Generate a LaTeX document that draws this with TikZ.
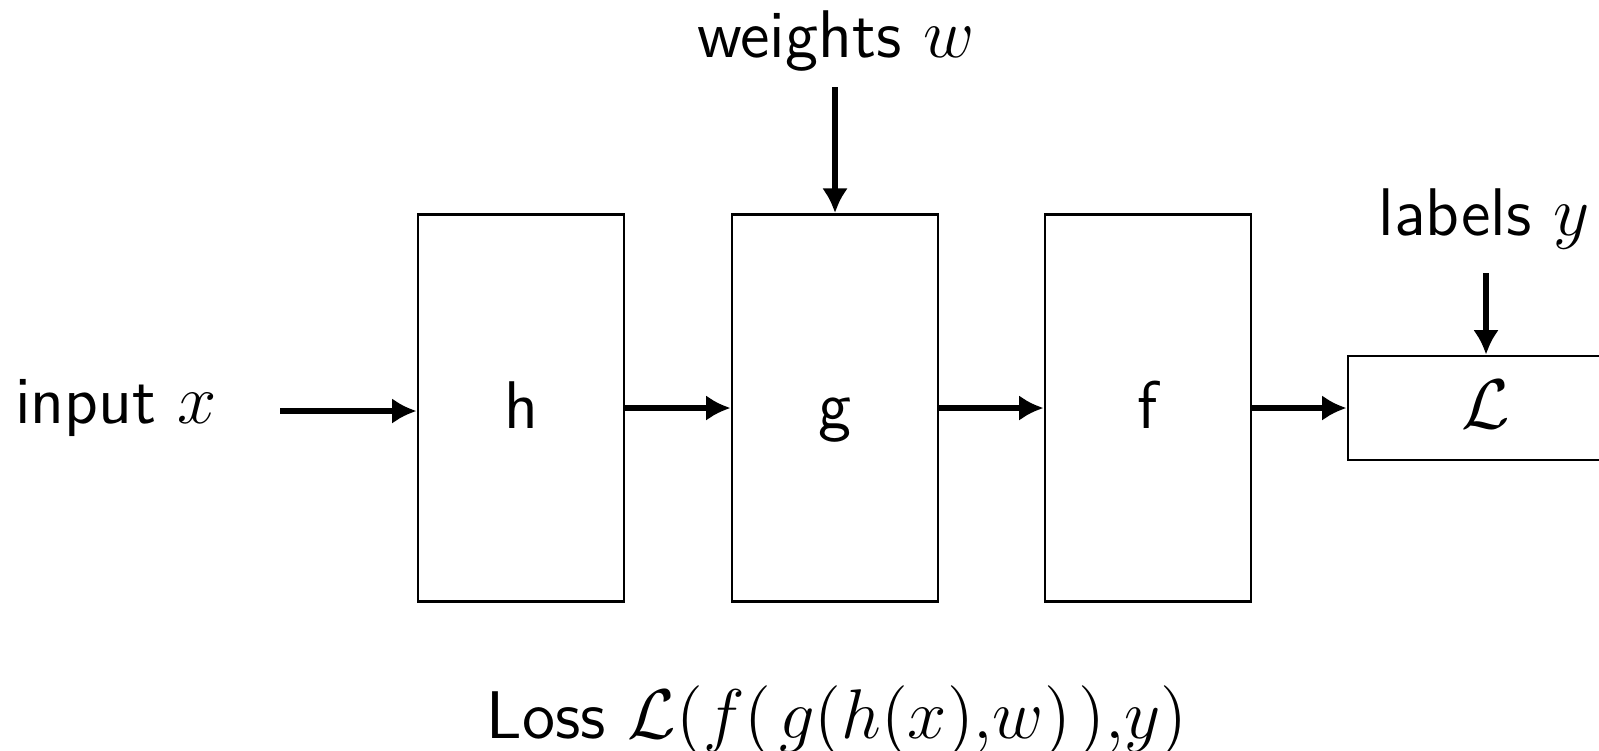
\documentclass[tikz,border=0pt]{standalone}
\usetikzlibrary{arrows.meta}
\usetikzlibrary{positioning}

\begin{document}
\begin{tikzpicture}[x=0.006cm, y=-0.006cm,
  font=\sffamily\fontsize{11.5}{14}\selectfont,
  block/.style={draw, line width=0.45pt, inner sep=0pt,
    text height=0.8em, text depth=0.1em,
    minimum width=1.236cm, minimum height=2.322cm},
  flow/.style={line width=0.9pt, -{Latex[length=4.2pt,width=4.4pt]}}]

\useasboundingbox (0,0) rectangle (1599,750);

%---------------------------------------
% Layers
%---------------------------------------
\node[block] (h) at (521,408) {h};
\node[block] (g) at (835,408) {g};
\node[block] (f) at (1148,408) {f};
\node[block, minimum width=1.656cm, minimum height=0.624cm] (loss) at (1486,408) {$\mathcal{L}$};

%---------------------------------------
% Inputs
%---------------------------------------
\node (input) at (116,408) {input $x$};
\coordinate (in) at (280,411);

\node (weights) at (836,41) {weights $w$};
\coordinate (wtop) at (835,87);

\node (labels) at (1484,219) {labels $y$};
\coordinate (ytop) at (1486,273);

% Loss
\node (total) at (837,721) {Loss $\mathcal{L}(f(\mkern2mu g(h(x){,}w)\mkern2mu){,}y)$};

%---------------------------------------
% Arrows
%---------------------------------------
\draw[flow] (in) -- (in -| h.west);
\draw[flow] (h) -- (g);
\draw[flow] (g) -- (f);
\draw[flow] (f) -- (loss);
\draw[flow] (wtop) -- (g.north);
\draw[flow] (ytop) -- (ytop |- loss.north);

\end{tikzpicture}
\end{document}
